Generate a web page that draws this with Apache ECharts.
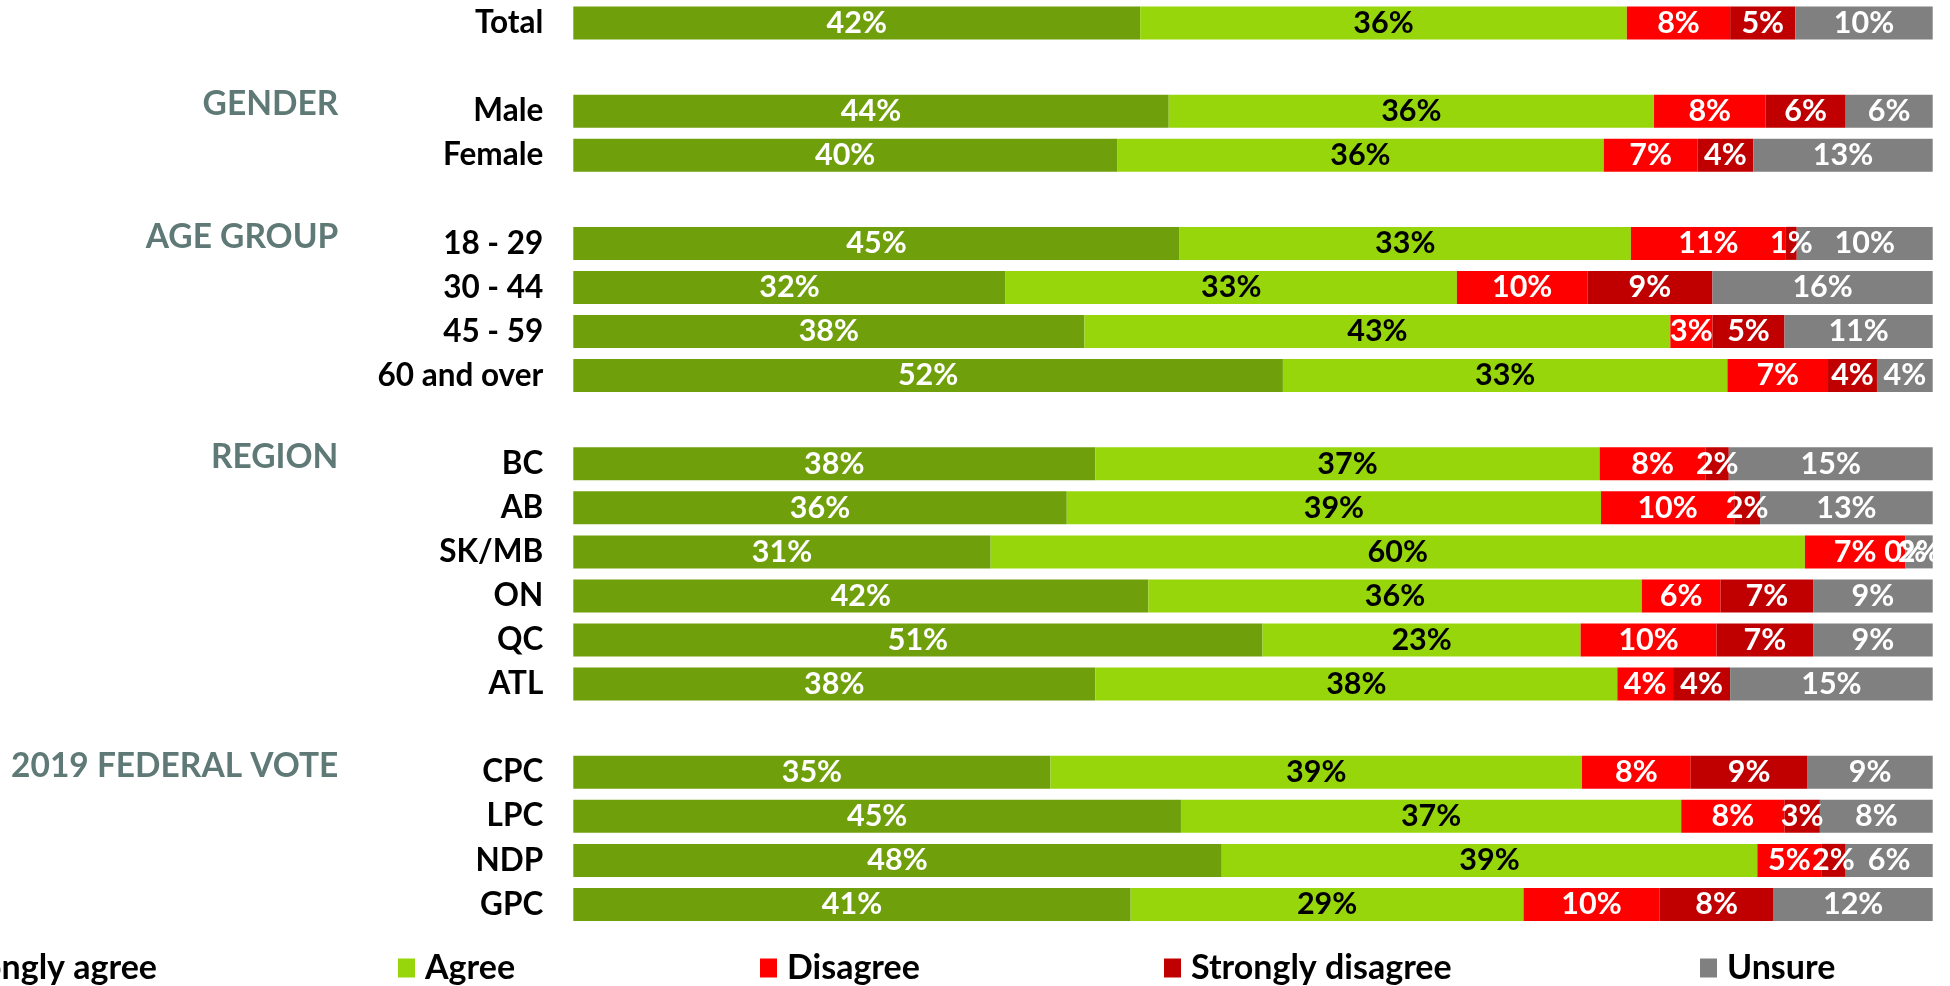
<!DOCTYPE html>
<html>
<head>
<meta charset="utf-8">
<script src="https://cdn.jsdelivr.net/npm/echarts@6/dist/echarts.min.js"></script>
<style>
html,body{margin:0;padding:0;background:#fff;}
#chart{width:1950px;height:986px;}
</style>
</head>
<body>
<div id="chart"></div>
<script>
// Row categories (blank rows separate the groups)
const categories = ['Total', ' ', 'Male', 'Female', '  ', '18 - 29', '30 - 44', '45 - 59', '60 and over', '   ',
  'BC', 'AB', 'SK/MB', 'ON', 'QC', 'ATL', '    ', 'CPC', 'LPC', 'NDP', 'GPC'];
// Group headings, placed on the first row of each group
const groupLabels = ['', '', 'GENDER', '', '', 'AGE GROUP', '', '', '', '',
  'REGION', '', '', '', '', '', '', '2019 FEDERAL VOTE', '', '', ''];
const seriesNames = ['Strongly agree', 'Agree', 'Disagree', 'Strongly disagree', 'Unsure'];

// Values (%)
const stronglyAgree    = [41.7, null, 43.8, 40.0, null, 44.6, 31.8, 37.6, 52.2, null, 38.4, 36.3, 30.7, 42.3, 50.7, 38.4, null, 35.1, 44.7, 47.7, 41.0];
const agree            = [35.8, null, 35.7, 35.8, null, 33.2, 33.2, 43.1, 32.7, null, 37.1, 39.3, 59.9, 36.3, 23.4, 38.4, null, 39.1, 36.8, 39.4, 28.9];
const disagree         = [7.6,  null, 8.2,  6.9,  null, 11.4, 9.6,  3.1,  7.4,  null, 7.8,  9.8,  7.4,  5.8,  10.0, 4.1,  null, 8.0,  7.6,  4.7,  10.0];
const stronglyDisagree = [4.8,  null, 5.9,  4.1,  null, 0.8,  9.2,  5.3,  3.6,  null, 1.7,  1.9,  0,    6.8,  7.1,  4.2,  null, 8.6,  2.6,  1.8,  8.4];
const unsure           = [10.1, null, 6.4,  13.2, null, 10.0, 16.2, 10.9, 4.1,  null, 15.0, 12.7, 2.0,  8.8,  8.8,  14.9, null, 9.2,  8.3,  6.4,  11.7];

const colors = ['#6fa00b', '#97d60b', '#ff0000', '#c00000', '#808080'];
const labelColors = ['#ffffff', '#000000', '#ffffff', '#ffffff', '#ffffff'];
const FONT = 'Lato';

const chart = echarts.init(document.getElementById('chart'), null, {renderer: 'canvas'});
const allData = [stronglyAgree, agree, disagree, stronglyDisagree, unsure];

const series = allData.map((d, i) => ({
  name: seriesNames[i],
  type: 'bar',
  stack: 'total',
  barWidth: 33,
  data: d,
  itemStyle: {color: colors[i]},
  label: {
    show: true,
    position: 'inside',
    color: labelColors[i],
    fontFamily: FONT,
    fontWeight: 'bold',
    fontSize: 30.5,
    formatter: p => (p.value === null || p.value === undefined) ? '' : Math.round(p.value) + '%'
  },
  emphasis: {disabled: true},
  animation: false
}));

// one legend per item so each sits where it does in the reference
const legendPos = [{right: 1793}, {left: 398}, {left: 760}, {left: 1164}, {left: 1700}];
const legends = seriesNames.map((n, i) => Object.assign({
  data: [n],
  top: 951,
  padding: 0,
  icon: 'rect',
  itemWidth: 17,
  itemHeight: 19,
  selectedMode: false,
  textStyle: {fontFamily: FONT, fontWeight: 'bold', fontSize: 34, color: '#000', padding: [0, 0, 0, 5]}
}, legendPos[i]));

chart.setOption({
  animation: false,
  color: colors,
  legend: legends,
  grid: {left: 573.3, right: 17.3, top: 1, bottom: 59.5, containLabel: false},
  xAxis: {type: 'value', min: 0, max: 100, show: false},
  yAxis: [
    {
      type: 'category', data: categories, inverse: true,
      axisLine: {show: false}, axisTick: {show: false},
      axisLabel: {interval: 0, margin: 30, color: '#000', fontFamily: FONT, fontWeight: 'bold', fontSize: 31.5}
    },
    {
      type: 'category', data: categories, inverse: true, position: 'left',
      axisLine: {show: false}, axisTick: {show: false}, splitLine: {show: false},
      axisLabel: {interval: 0, margin: 235, color: '#5f7a76', fontFamily: FONT, fontWeight: 'bold', fontSize: 33.5,
        verticalAlign: 'bottom', lineHeight: 13,
        formatter: (v, i) => groupLabels[i]}
    }
  ],
  series: series
});
</script>
</body>
</html>
